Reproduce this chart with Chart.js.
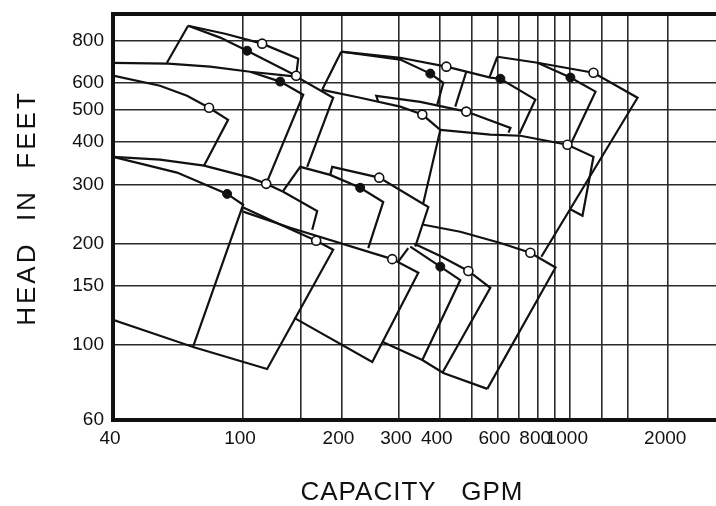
<!DOCTYPE html>
<html>
<head>
<meta charset="utf-8">
<title>Pump coverage chart</title>
<script src="https://cdn.jsdelivr.net/npm/chart.js@4.4.1/dist/chart.umd.min.js"></script>
<style>
  html, body { margin: 0; padding: 0; background: #fff; }
  #chartBox { width: 716px; height: 506px; }
</style>
</head>
<body>
<div id="chartBox"><canvas id="myChart" width="716" height="506"></canvas></div>
<script>
// grid and labels
const capacityGrid = [40, 100, 150, 200, 300, 400, 500, 600, 700, 800, 900, 1000, 1250, 1500, 2000];
const capacityLabels = [40, 100, 200, 300, 400, 600, 800, 1000, 2000];
const headTicks = [60, 100, 150, 200, 300, 400, 500, 600, 800];
const xTitle = 'CAPACITY   GPM';
const yTitle = 'HEAD  IN  FEET';

// tile outlines, each point is [capacity gpm, head ft]
const tileATop = [[67.9, 886], [88.1, 839], [114.4, 784], [147.5, 707], [145.4, 630]];
const tileALeft = [[67.9, 886], [58.5, 688]];
const tileADiag = [[67.9, 886], [85.1, 817], [102.9, 747], [145.4, 630]];
const curveL1a = [[40, 688], [59, 684], [79.3, 670], [105.1, 647], [145.4, 626], [188.7, 542], [157.1, 338]];
const curveL1b = [[105.1, 647], [129.9, 605], [152.8, 553], [117.7, 301]];
const curveL2 = [[40, 630], [55.7, 588], [67.4, 549], [78.7, 506], [90, 466], [76, 341]];
const curveL3 = [[40, 362], [55.7, 355], [76, 341], [105.1, 314], [117.7, 301], [132.7, 285], [168.6, 250], [162.8, 220]];
const curveL3b = [[40, 362], [62.8, 325], [89.4, 281], [100.1, 261], [70.3, 98.8], [40, 119]];
const tileBL2 = [[100.1, 256], [129.9, 228], [167.4, 204], [188.7, 192], [118.5, 85], [70.3, 98.8]];
const tileK = [[100.1, 249], [139.4, 223], [286.1, 180], [343.8, 164], [248.5, 89.2], [143.4, 120.5]];
const tileCLeft = [[199.7, 742], [174.6, 572]];
const tileCFlat = [[199.7, 742], [302.7, 712], [418.9, 670], [571, 622], [613, 617], [784, 535], [701, 424]];
const tileCSteep = [[199.7, 742], [302.7, 703], [374.1, 639], [410, 600], [393, 517]];
const tileCEdge = [[482, 647], [446, 510]];
const tileDLeft = [[600, 717], [567, 622]];
const tileDSteep = [[600, 717], [796, 688], [1004, 622], [1198, 565], [1004, 393]];
const tileDFlat = [[796, 688], [1181, 643], [1611, 542], [818, 183]];
const curveM = [[174.6, 572], [228.3, 542], [302.7, 510], [353.6, 483], [401.4, 435], [356.1, 264]];
const curveN = [[259.2, 527], [255.6, 549], [348.6, 527], [482, 493], [658, 441], [649, 427]];
const tileG = [[401.4, 435], [571, 421], [706, 418], [983, 393], [1181, 362], [1093, 242], [997, 254]];
const tileE = [[132.7, 287], [149.6, 338], [184.8, 320], [228.3, 293], [268.5, 266], [241.6, 194]];
const tileF = [[184.8, 320], [187.4, 338], [261, 314], [368.9, 257], [336.5, 196]];
const tileH = [[353.6, 228], [462, 217], [613, 201], [757, 188], [904, 170], [559, 74.2]];
const tileJLeft = [[320.3, 194], [298.5, 177]];
const tileJSteep = [[324.9, 196], [401.4, 171], [462, 156], [353.6, 90.4]];
const tileJFlat = [[334.2, 200], [401.4, 184], [489, 166], [571, 148], [407, 82.7]];
const lowerEdge = [[266.6, 102.3], [353.6, 90.4], [410, 82.7], [559, 74.2]];

// rating points on the curves
const pointsFilled = [[102.9, 747], [129.9, 605], [89.4, 281], [374.1, 639], [613, 617], [1004, 622], [228.3, 293], [401.4, 171]];
const pointsOpen = [[114.4, 784], [145.4, 630], [78.7, 506], [117.7, 301], [167.4, 204], [286.1, 180], [418.9, 670],
  [1181, 643], [353.6, 483], [482, 493], [261, 314], [983, 393], [757, 188], [489, 166]];

const outlines = [tileATop, tileALeft, tileADiag, curveL1a, curveL1b, curveL2, curveL3, curveL3b, tileBL2, tileK,
  tileCLeft, tileCFlat, tileCSteep, tileCEdge, tileDLeft, tileDSteep, tileDFlat, curveM, curveN, tileG,
  tileE, tileF, tileH, tileJLeft, tileJSteep, tileJFlat, lowerEdge];

const INK = '#111';
const GRID = '#2b2b2b';
const tickFont = { family: '"Liberation Sans", Arial, sans-serif', size: 19 };

function toPoints(list) {
  return list.map(p => ({ x: p[0], y: p[1] }));
}

// keep the plot frame where the paper has it
function noPadding(s) {
  s.paddingTop = 0;
  s.paddingBottom = 0;
  s.paddingLeft = 0;
  s.paddingRight = 0;
}

// axis titles with letter spacing (canvas text)
const axisTitles = {
  id: 'axisTitles',
  afterDraw(chart) {
    const ctx = chart.ctx;
    ctx.save();
    ctx.fillStyle = INK;
    ctx.font = '26px "Liberation Sans Narrow", "Liberation Sans", sans-serif';
    ctx.textAlign = 'center';
    ctx.textBaseline = 'middle';
    ctx.letterSpacing = '1px';
    ctx.fillText(xTitle, 412, 493);
    ctx.translate(28, 208);
    ctx.rotate(-Math.PI / 2);
    ctx.letterSpacing = '3px';
    ctx.fillText(yTitle, 0, 0);
    ctx.restore();
  }
};

function createChart() {
  const ctx = document.getElementById('myChart').getContext('2d');

  const datasets = [
    {
      data: toPoints(pointsFilled), showLine: false, order: 0,
      pointRadius: 4.5, pointBackgroundColor: INK, pointBorderColor: INK, pointBorderWidth: 1
    },
    {
      data: toPoints(pointsOpen), showLine: false, order: 0,
      pointRadius: 4.5, pointBackgroundColor: '#fff', pointBorderColor: INK, pointBorderWidth: 1.6
    }
  ];
  outlines.forEach(o => {
    datasets.push({
      data: toPoints(o), showLine: true, order: 1, fill: false, tension: 0,
      borderColor: INK, borderWidth: 2.2, pointRadius: 0
    });
  });

  new Chart(ctx, {
    type: 'scatter',
    data: { datasets: datasets },
    options: {
      responsive: false,
      animation: false,
      devicePixelRatio: 1,
      layout: { autoPadding: false, padding: { top: 14, right: 0, bottom: 0, left: 0 } },
      plugins: { legend: { display: false }, tooltip: { enabled: false } },
      scales: {
        x: {
          type: 'logarithmic', min: 40, max: 2800,
          afterBuildTicks: s => { s.ticks = capacityGrid.map(v => ({ value: v })); },
          afterFit: s => { s.height = 86; noPadding(s); },
          grid: { color: GRID, lineWidth: 1.6, drawTicks: false },
          border: { display: true, color: INK, width: 4 },
          ticks: {
            autoSkip: false, maxRotation: 0, padding: 7, labelOffset: -3, color: INK, font: tickFont,
            callback: v => capacityLabels.includes(v) ? String(v) : ''
          }
        },
        y: {
          type: 'logarithmic', min: 60, max: 960,
          afterBuildTicks: s => { s.ticks = headTicks.map(v => ({ value: v })); },
          afterFit: s => { s.width = 113; noPadding(s); },
          grid: { color: GRID, lineWidth: 1.6, drawTicks: false },
          border: { display: true, color: INK, width: 4 },
          ticks: { autoSkip: false, padding: 9, color: INK, font: tickFont, callback: v => String(v) }
        },
        frameTop: {
          type: 'linear', position: 'top', axis: 'x',
          afterFit: s => { s.height = 0; noPadding(s); },
          grid: { display: false, drawTicks: false },
          ticks: { display: false },
          border: { display: true, color: INK, width: 4 }
        }
      }
    },
    plugins: [axisTitles]
  });
}

window.onload = createChart;
</script>
</body>
</html>
